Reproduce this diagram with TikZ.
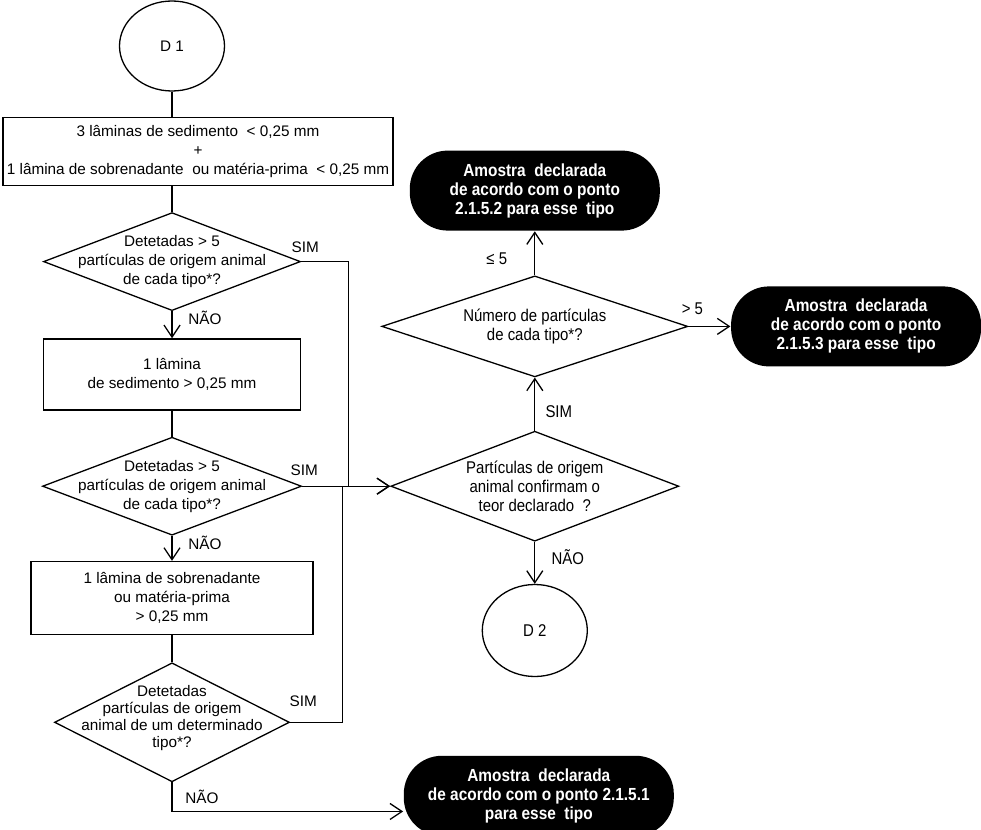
\documentclass[tikz,border=0pt]{standalone}
\usepackage{fontspec}
\setmainfont{Liberation Sans}
\newfontfamily\narrowfont[FakeStretch=0.88]{Liberation Sans}
\usetikzlibrary{arrows.meta,positioning,calc,shapes.geometric}

\begin{document}
\begin{tikzpicture}[
    line width=1.3pt,
    font=\fontsize{15.3pt}{19pt}\selectfont,
    block/.style={draw,align=center,inner sep=0pt},
    connector/.style={draw,ellipse,inner sep=0pt,minimum width=105pt},
    decision/.style={draw,diamond,inner sep=0pt},
    dtext/.style={align=center,inner sep=0pt},
    narrow/.style={font=\narrowfont\fontsize{17pt}{19pt}\selectfont},
    terminal/.style={fill=black,text=white,rounded corners=38pt,minimum width=250pt,minimum height=80pt,align=center,inner sep=0pt,font=\narrowfont\bfseries\fontsize{17.5pt}{19pt}\selectfont},
    tag/.style={inner sep=0pt},
    arrow/.style={-{Straight Barb[length=12pt,width=16pt]}}
]
\useasboundingbox (0,0) rectangle (981pt,-829pt);
\node[connector,minimum height=90pt] (d1) at (172pt,-46pt) {D 1};
\node[block,below=25pt of d1,xshift=26pt,minimum width=390pt,minimum height=68pt] (lam3) {3 lâminas de sedimento~ < 0,25 mm\\+\\1 lâmina de sobrenadante~ ou matéria-prima~ < 0,25 mm};
\node[decision,below=26pt of lam3,xshift=-26pt,minimum width=257pt,minimum height=98pt,
    label={[dtext]center:{Detetadas > 5\\partículas de origem animal\\de cada tipo*?}}] (dec1) {};
\node[block,below=27pt of dec1,minimum width=257pt,minimum height=71pt] (sed1) {1 lâmina\\de sedimento > 0,25 mm};
\node[decision,below=26pt of sed1,minimum width=259pt,minimum height=98pt,
    label={[dtext]center:{Detetadas > 5\\partículas de origem animal\\de cada tipo*?}}] (dec2) {};
\node[block,below=25pt of dec2,minimum width=282pt,minimum height=73pt] (sob1) {1 lâmina de sobrenadante\\ou matéria-prima\\> 0,25 mm};
\node[decision,below=27pt of sob1,minimum width=235pt,minimum height=119pt,
    label={[dtext,font=\fontsize{15.3pt}{17pt}\selectfont,yshift=4pt]center:{Detetadas\\partículas de origem\\animal de um determinado\\tipo*?}}] (dec3) {};
\node[decision,right=88pt of dec2,minimum width=288pt,minimum height=110pt,
    label={[dtext,narrow]center:{Partículas de origem\\animal confirmam o\\teor declarado~ ?}}] (conf) {};
\node[decision,above=53pt of conf,minimum width=306pt,minimum height=101pt,
    label={[dtext,narrow]center:{Número de partículas\\de cada tipo*?}}] (numero) {};
\node[connector,narrow,below=42pt of conf,minimum height=92pt] (d2) {D 2};
\node[terminal,above=44pt of numero] (ap2) {Amostra~ declarada\\de acordo com o ponto\\2.1.5.2 para esse~ tipo};
\node[terminal,right=42pt of numero] (ap3) {Amostra~ declarada\\de acordo com o ponto\\2.1.5.3 para esse~ tipo};
\node[terminal,below=78pt of d2,xshift=4pt,minimum width=270pt] (ap1) {Amostra~ declarada\\de acordo com o ponto 2.1.5.1\\para esse~ tipo};
\coordinate (busA) at ($(dec1.east)+(47.5pt,0)$);
\coordinate (busB) at ($(dec3.east)+(52.5pt,0)$);
\coordinate (turn3) at ($(dec3.south)+(0,-29pt)$);
\draw (d1) -- (d1 |- lam3.north);
\draw (lam3.south -| dec1) -- (dec1.north);
\draw[arrow] (dec1.south) -- (dec1.south |- sed1.north);
\draw (sed1.south -| dec2) -- (dec2.north);
\draw[arrow] (dec2.south) -- (dec2.south |- sob1.north);
\draw (sob1.south -| dec3) -- (dec3.north);
\draw[arrow] (dec1.east) -- (busA) |- (conf.west);
\draw[arrow] (dec2.east) -- (conf.west);
\draw (dec3.east) -- (busB) -- (busB |- conf.west);
\draw[arrow] (dec3.south) -- (turn3) -- (turn3 -| ap1.west);
\draw[arrow] (conf) -- (numero);
\draw[arrow] (conf) -- (d2);
\draw[arrow] (numero) -- (ap2);
\draw[arrow] (numero) -- (ap3);
\node[tag] (sim1) at ($(dec1.east)+(4pt,14pt)$) {SIM};
\node[tag] (nao1) at ($(dec1.south)+(33pt,-7pt)$) {NÃO};
\node[tag] (sim2) at ($(dec2.east)+(2pt,16pt)$) {SIM};
\node[tag] (nao2) at ($(dec2.south)+(33pt,-7pt)$) {NÃO};
\node[tag] (sim3) at ($(dec3.east)+(13pt,21pt)$) {SIM};
\node[tag] (nao3) at ($(dec3.south)+(30pt,-14pt)$) {NÃO};
\node[tag,narrow] (sim4) at ($(conf.north)+(24pt,19pt)$) {SIM};
\node[tag,narrow] (nao4) at ($(conf.south)+(33pt,-15pt)$) {NÃO};
\node[tag,narrow] (le5) at ($(numero.north)+(-38pt,17pt)$) {≤ 5};
\node[tag,narrow] (gt5) at ($(numero.east)+(4pt,18pt)$) {> 5};
\end{tikzpicture}
\end{document}
